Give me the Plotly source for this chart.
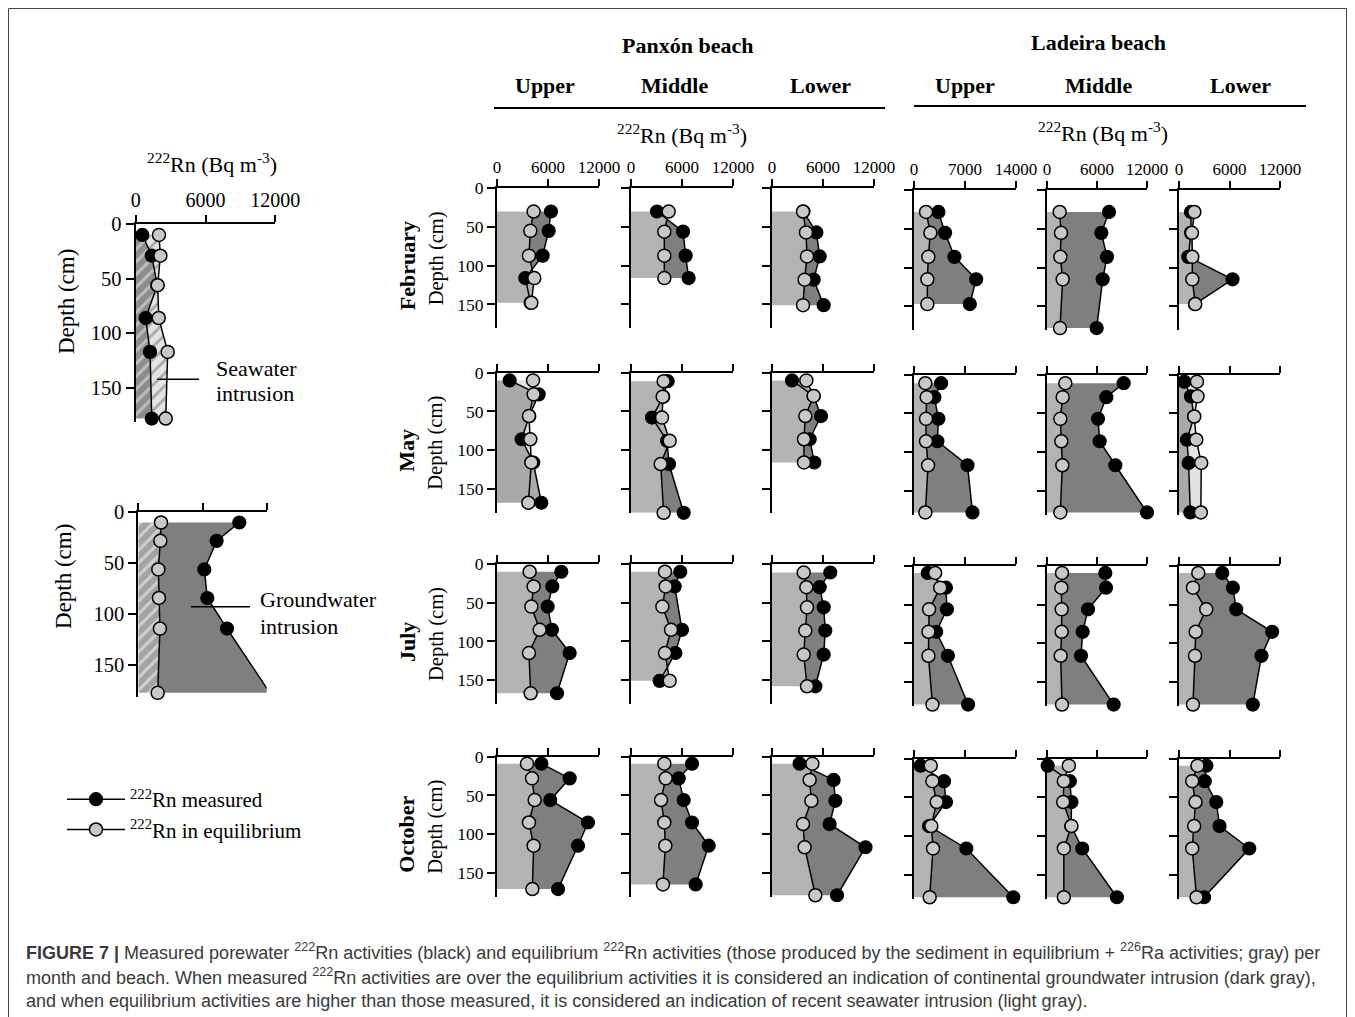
import numpy as np
import plotly.graph_objects as go

W, H = 1355, 1017
OX, OY = 8, 8          # page offset of the plot inside the browser window
SERIF = "Liberation Serif, Times New Roman, serif"
SANS = "Liberation Sans, Arial, sans-serif"

# ------------------------------------------------------------------ data
# depths (cm), measured 222Rn and equilibrium 222Rn (Bq m-3)
# February
d_feb_pu = [30, 55, 87, 116, 148]
m_feb_pu = [6350, 6080, 5370, 3330, 3950]
e_feb_pu = [4310, 3920, 3760, 4390, 4040]
d_feb_pm = [30, 56, 87, 116]
m_feb_pm = [3060, 6120, 6430, 6780]
e_feb_pm = [4430, 3920, 3920, 3920]
d_feb_pl = [30, 57, 88, 118, 151]
m_feb_pl = [3700, 5220, 5610, 4900, 6080]
e_feb_pl = [3650, 4000, 4120, 3840, 3650]
d_feb_lu = [28, 55, 86, 115, 147]
m_feb_lu = [3350, 4270, 5550, 8530, 7660]
e_feb_lu = [1650, 2250, 1970, 1830, 1830]
d_feb_lm = [28, 55, 86, 115, 178]
m_feb_lm = [7440, 6520, 7200, 6680, 5960]
e_feb_lm = [1520, 1680, 1600, 1880, 1560]
d_feb_ll = [28, 55, 86, 115, 147]
m_feb_ll = [1420, 1420, 1100, 6360, 1900]
e_feb_ll = [1820, 1540, 1580, 1580, 1930]
# May
d_may_pu = [10, 28, 56, 86, 116, 168]
m_may_pu = [1490, 4900, 3800, 2900, 4270, 5220]
e_may_pu = [4240, 4310, 3760, 3920, 4040, 3690]
d_may_pm = [11, 31, 58, 88, 118, 181]
m_may_pm = [4310, 3800, 2470, 4240, 4470, 6200]
e_may_pm = [3840, 3730, 3650, 4550, 3490, 3840]
d_may_pl = [10, 30, 56, 86, 116]
m_may_pl = [2350, 4900, 5760, 4430, 4980]
e_may_pl = [4040, 4900, 3920, 3760, 3760]
d_may_lu = [11, 29, 57, 86, 117, 178]
m_may_lu = [3720, 2800, 3350, 3210, 7340, 8030]
e_may_lu = [1560, 1740, 1650, 1650, 1930, 1560]
d_may_lm = [11, 29, 57, 86, 117, 178]
m_may_lm = [9200, 7120, 6120, 6320, 8200, 12000]
e_may_lm = [2200, 1880, 1600, 1720, 1840, 1600]
d_may_ll = [9, 28, 54, 84, 114, 178]
m_may_ll = [630, 1420, 1790, 940, 1140, 1340]
e_may_ll = [2130, 2200, 1810, 2050, 2640, 2600]
# July
d_jul_pu = [10, 29, 55, 85, 115, 167]
m_jul_pu = [7570, 6510, 5960, 6470, 8550, 7060]
e_jul_pu = [3840, 4310, 4040, 5020, 3760, 3960]
d_jul_pm = [10, 29, 55, 85, 115, 151]
m_jul_pm = [5800, 5140, None, 6000, 5220, 3370]
e_jul_pm = [4000, 4080, 3690, 4710, 4000, 4550]
d_jul_pl = [11, 30, 56, 86, 117, 158]
m_jul_pl = [6860, 5610, 6080, 6270, 6080, 5100]
e_jul_pl = [3730, 4040, 4120, 3920, 3730, 4120]
d_jul_lu = [9, 28, 56, 85, 116, 179]
m_jul_lu = [1890, 4380, 4520, 3040, 4650, 7420]
e_jul_lu = [2900, 3600, 2070, 1980, 1980, 2530]
d_jul_lm = [9, 28, 56, 85, 116, 179]
m_jul_lm = [7000, 7080, 4920, 4280, 4080, 8000]
e_jul_lm = [1800, 1720, 1760, 1760, 1640, 1800]
d_jul_ll = [9, 28, 56, 85, 116, 179]
m_jul_ll = [5140, 6400, 6800, 11070, 9800, 8770]
e_jul_ll = [2290, 1660, 3240, 1980, 1900, 1660]
# October
d_oct_pu = [9, 28, 56, 85, 115, 171]
m_oct_pu = [5220, 8550, 6270, 10700, 9530, 7180]
e_oct_pu = [3530, 4120, 4430, 3760, 4310, 4160]
d_oct_pm = [9, 28, 56, 85, 115, 165]
m_oct_pm = [7180, 5610, 6200, 7180, 9140, 7610]
e_oct_pm = [3920, 4080, 3530, 3920, 4040, 3760]
d_oct_pl = [9, 30, 57, 87, 117, 179]
m_oct_pl = [3250, 7250, 7450, 6780, 11000, 7650]
e_oct_pl = [4750, 4430, 4630, 3650, 3840, 5100]
d_oct_lu = [9, 29, 56, 87, 116, 179]
m_oct_lu = [910, 4120, 4390, 2060, 7180, 13630]
e_oct_lu = [2290, 2520, 3110, 2380, 2610, 2150]
d_oct_lm = [9, 29, 56, 87, 116, 179]
m_oct_lm = [80, 2740, 2940, 2900, 4230, 8390]
e_oct_lm = [2620, 2020, 1940, 2940, 2020, 2020]
d_oct_ll = [9, 29, 56, 87, 116, 179]
m_oct_ll = [3250, 3060, 4430, 4820, 8350, 2980]
e_oct_ll = [2200, 1570, 1960, 1800, 1570, 2080]

# schematic examples
d_ex_sea = [10, 29, 56, 86, 117, 178]
m_ex_sea = [570, 1380, 1850, 860, 1230, 1380]
e_ex_sea = [2000, 2120, 1890, 1980, 2750, 2580]
d_ex_gw = [10, 28, 56, 84, 114, 177]
m_ex_gw = [9440, 7320, 6170, 6450, 8290, 12300]
e_ex_gw = [2120, 2060, 1870, 1930, 2020, 1810]

months = ["February", "May", "July", "October"]
zones = ["Upper", "Middle", "Lower"]
axis_max = [12000, 12000, 12000, 14000, 12000, 12000]

panels = [
    [(d_feb_pu, m_feb_pu, e_feb_pu), (d_feb_pm, m_feb_pm, e_feb_pm), (d_feb_pl, m_feb_pl, e_feb_pl),
     (d_feb_lu, m_feb_lu, e_feb_lu), (d_feb_lm, m_feb_lm, e_feb_lm), (d_feb_ll, m_feb_ll, e_feb_ll)],
    [(d_may_pu, m_may_pu, e_may_pu), (d_may_pm, m_may_pm, e_may_pm), (d_may_pl, m_may_pl, e_may_pl),
     (d_may_lu, m_may_lu, e_may_lu), (d_may_lm, m_may_lm, e_may_lm), (d_may_ll, m_may_ll, e_may_ll)],
    [(d_jul_pu, m_jul_pu, e_jul_pu), (d_jul_pm, m_jul_pm, e_jul_pm), (d_jul_pl, m_jul_pl, e_jul_pl),
     (d_jul_lu, m_jul_lu, e_jul_lu), (d_jul_lm, m_jul_lm, e_jul_lm), (d_jul_ll, m_jul_ll, e_jul_ll)],
    [(d_oct_pu, m_oct_pu, e_oct_pu), (d_oct_pm, m_oct_pm, e_oct_pm), (d_oct_pl, m_oct_pl, e_oct_pl),
     (d_oct_lu, m_oct_lu, e_oct_lu), (d_oct_lm, m_oct_lm, e_oct_lm), (d_oct_ll, m_oct_ll, e_oct_ll)],
]

# ------------------------------------------------------------------ layout geometry (window px)
COL_X = [497, 631, 772, 914, 1047, 1179]
COL_W = [102, 102, 102, 102, 100, 101]
ROW_Y = [188.3, 372.7, 564, 756.7]
PX_CM = 0.774
YMAX = 181

C_BASE = "#b3b3b3"
C_DARK = "#7f7f7f"
C_SEA_BASE = "#a9a9a9"
C_SEA_LIGHT = "#e2e2e2"
C_EQ = "#c8c8c8"

fig = go.Figure()
layout = {}


def px(x):
    return (x - OX) / W


def py(y):
    return 1 - (y - OY) / H


def xd(x0, w):
    return [px(x0), px(x0 + w)]


def yd(y0, h):
    return [py(y0 + h), py(y0)]


def regions(d, m, e):
    """split the area between measured and equilibrium profiles at crossings"""
    d = np.asarray(d, float)
    m = np.asarray([np.nan if v is None else v for v in m], float)
    e = np.asarray(e, float)
    ok = ~np.isnan(m)
    m = np.interp(d, d[ok], m[ok])
    pts = [(d[0], e[0], m[0])]
    for i in range(len(d) - 1):
        a, b = m[i] - e[i], m[i + 1] - e[i + 1]
        if a * b < 0:
            t = a / (a - b)
            dc = d[i] + t * (d[i + 1] - d[i])
            xc = e[i] + t * (e[i + 1] - e[i])
            pts.append((dc, xc, xc))
        pts.append((d[i + 1], e[i + 1], m[i + 1]))
    runs, cur, sgn = [], [pts[0]], np.sign(pts[0][2] - pts[0][1])
    for p in pts[1:]:
        s = np.sign(p[2] - p[1])
        cur.append(p)
        if s == 0:
            runs.append((sgn, cur))
            cur, sgn = [p], 0
        elif sgn == 0:
            sgn = s
    runs.append((sgn, cur))
    out = []
    for s, r in runs:
        if len(r) < 2:
            continue
        ds = [p[0] for p in r]
        es = [p[1] for p in r]
        ms = [p[2] for p in r]
        out.append((s, es + ms[::-1], ds + ds[::-1]))
    return out


def fill_trace(k, xs, ys, color, pattern=None):
    kw = dict(x=xs, y=ys, fill="toself", mode="none", fillcolor=color,
              xaxis="x" if k == 1 else f"x{k}", yaxis="y" if k == 1 else f"y{k}",
              hoverinfo="skip", showlegend=False)
    if pattern:
        kw["fillpattern"] = pattern
    fig.add_trace(go.Scatter(**kw))


def profile_traces(k, d, m, e, legend=False):
    ax = dict(xaxis="x" if k == 1 else f"x{k}", yaxis="y" if k == 1 else f"y{k}")
    fig.add_trace(go.Scatter(x=m, y=d, mode="lines+markers", connectgaps=True,
                             line=dict(color="black", width=1.5),
                             marker=dict(size=13, color="black", line=dict(color="black", width=1.2)),
                             name="<sup>222</sup>Rn measured", showlegend=legend,
                             cliponaxis=False, hoverinfo="skip", **ax))
    fig.add_trace(go.Scatter(x=e, y=d, mode="lines+markers",
                             line=dict(color="black", width=1.5),
                             marker=dict(size=13, color=C_EQ, line=dict(color="black", width=1.5)),
                             name="<sup>222</sup>Rn in equilibrium", showlegend=legend,
                             cliponaxis=False, hoverinfo="skip", **ax))


def axes(k, xdom, ydom, xmax, show_x, show_y, tick_size=17, ymax=YMAX):
    sx = "" if k == 1 else str(k)
    layout[f"xaxis{sx}"] = dict(
        domain=xdom, range=[0, xmax], anchor=f"y{sx}", side="top", automargin=False,
        tickvals=[0, xmax / 2, xmax], ticktext=["0", f"{xmax // 2}", f"{xmax}"],
        showticklabels=show_x, ticks="outside", ticklen=7, tickwidth=2, tickcolor="black",
        showline=True, linewidth=2, linecolor="black", showgrid=False, zeroline=False,
        tickfont=dict(family=SERIF, size=tick_size, color="black"), fixedrange=True)
    layout[f"yaxis{sx}"] = dict(
        domain=ydom, range=[ymax, 0], anchor=f"x{sx}", automargin=False,
        tickvals=[0, 50, 100, 150], showticklabels=show_y, ticks="outside", ticklen=8,
        tickwidth=2, tickcolor="black", showline=True, linewidth=2, linecolor="black",
        showgrid=False, zeroline=False,
        tickfont=dict(family=SERIF, size=tick_size + 0.5, color="black"), fixedrange=True)


k = 0
for r in range(4):
    for c in range(6):
        k += 1
        d, m, e = panels[r][c]
        xmax = axis_max[c]
        y0 = ROW_Y[r] + (2 if c >= 3 else 0)
        axes(k, xd(COL_X[c], COL_W[c]), yd(y0, YMAX * PX_CM), xmax, r == 0, c == 0)
        mv = np.array([np.nan if v is None else v for v in m], float)
        seawater = np.nanmean(mv) < np.mean(e)
        if seawater:
            fill_trace(k, [0] + list(mv) + [0], [d[0]] + list(d) + [d[-1]], C_SEA_BASE)
            for s, xs, ys in regions(d, m, e):
                if s < 0:
                    fill_trace(k, xs, ys, C_SEA_LIGHT)
        else:
            fill_trace(k, [0] + list(e) + [0], [d[0]] + list(d) + [d[-1]], C_BASE)
            for s, xs, ys in regions(d, m, e):
                if s > 0:
                    fill_trace(k, xs, ys, C_DARK)
        profile_traces(k, d, m, e, legend=(k == 1))

# ---- example 1: seawater intrusion
k_sea = 25
axes(k_sea, xd(135.7, 139.6), yd(224, YMAX * 1.093), 12000, True, True, tick_size=20)
hatch_dark = dict(shape="/", bgcolor="#8c8c8c", fgcolor="#bdbdbd", size=9, solidity=0.35, fillmode="replace")
hatch_light = dict(shape="/", bgcolor="#e4e4e4", fgcolor="#a8a8a8", size=9, solidity=0.3, fillmode="replace")
fill_trace(k_sea, [0] + m_ex_sea + [0], [d_ex_sea[0]] + d_ex_sea + [d_ex_sea[-1]], "#8c8c8c", hatch_dark)
for s, xs, ys in regions(d_ex_sea, m_ex_sea, e_ex_sea):
    if s < 0:
        fill_trace(k_sea, xs, ys, "#e4e4e4", hatch_light)
profile_traces(k_sea, d_ex_sea, m_ex_sea, e_ex_sea)

# ---- example 2: groundwater intrusion
k_gw = 26
axes(k_gw, xd(138.3, 128.4), yd(512.3, YMAX * 1.02), 12000, False, True, tick_size=20)
hatch_mid = dict(shape="/", bgcolor="#a3a3a3", fgcolor="#cfcfcf", size=9, solidity=0.35, fillmode="replace")
fill_trace(k_gw, [0] + e_ex_gw + [0], [d_ex_gw[0]] + d_ex_gw + [d_ex_gw[-1]], "#a3a3a3", hatch_mid)
for s, xs, ys in regions(d_ex_gw, m_ex_gw, e_ex_gw):
    if s > 0:
        fill_trace(k_gw, xs, ys, C_DARK)
profile_traces(k_gw, d_ex_gw, m_ex_gw, e_ex_gw)

# ------------------------------------------------------------------ annotations
ann = []


def text(x, y, t, size=20, bold=False, xanchor="center", angle=0, color="black", family=SERIF):
    if bold:
        t = f"<b>{t}</b>"
    ann.append(dict(x=px(x), y=py(y), xref="paper", yref="paper", text=t, showarrow=False,
                    xanchor=xanchor, yanchor="middle", textangle=angle,
                    font=dict(family=family, size=size, color=color)))


RN = "<sup>222</sup>Rn (Bq m<sup>-3</sup>)"
text(687, 45, "Panxón beach", 22, True)
text(1098, 43, "Ladeira beach", 22, True)
for cx, z in zip([545, 674, 820, 965, 1098, 1240], zones * 2):
    text(cx, 86, z, 22, True)
text(682, 134, RN, 22)
text(1103, 132, RN, 22)
for r, mth in enumerate(months):
    y0 = ROW_Y[r]
    text(407, y0 + 78, mth, 22, True, angle=-90)
    text(436, y0 + 70, "Depth (cm)", 20.5, angle=-90)

text(212, 163, RN, 22)
text(66, 302, "Depth (cm)", 23, angle=-90)
text(63, 577, "Depth (cm)", 23, angle=-90)
text(214, 368, "Seawater", 22, xanchor="left")
text(214, 394, "intrusion", 22, xanchor="left")
text(258, 599, "Groundwater", 22, xanchor="left")
text(258, 626, "intrusion", 22, xanchor="left")

CAP = "#3a3a3a"
cap1 = ("<b>FIGURE 7 |</b> Measured porewater <sup>222</sup>Rn activities (black) and equilibrium "
        "<sup>222</sup>Rn activities (those produced by the sediment in equilibrium + "
        "<sup>226</sup>Ra activities; gray) per")
cap2 = ("month and beach. When measured <sup>222</sup>Rn activities are over the equilibrium activities "
        "it is considered an indication of continental groundwater intrusion (dark gray),")
cap3 = ("and when equilibrium activities are higher than those measured, it is considered an "
        "indication of recent seawater intrusion (light gray).")
text(24, 951, cap1, 18, xanchor="left", color=CAP, family=SANS)
text(24, 976, cap2, 18, xanchor="left", color=CAP, family=SANS)
text(24, 1001, cap3, 18, xanchor="left", color=CAP, family=SANS)

# ------------------------------------------------------------------ shapes
def hline(x0, x1, y, color="black", width=2):
    return dict(type="line", xref="paper", yref="paper", x0=px(x0), x1=px(x1), y0=py(y), y1=py(y),
                line=dict(color=color, width=width))


def vline(x, y0, y1, color="#444", width=1):
    return dict(type="line", xref="paper", yref="paper", x0=px(x), x1=px(x), y0=py(y0), y1=py(y1),
                line=dict(color=color, width=width))


shapes = [
    hline(494, 885, 108),
    hline(914, 1306, 106),
    hline(8.5, 1346.5, 8.5, "#444", 1),
    vline(8.5, 8.5, 1030),
    vline(1346.5, 8.5, 1030),
    # pointer lines of the schematic labels
    dict(type="line", xref="x25", yref="y25", x0=1830, x1=5440, y0=142, y1=142,
         line=dict(color="black", width=1.5)),
    dict(type="line", xref="x26", yref="y26", x0=4920, x1=10440, y0=92.5, y1=92.5,
         line=dict(color="black", width=1.5)),
]

fig.update_layout(
    template="none",
    width=W, height=H, margin=dict(l=0, r=0, t=0, b=0, autoexpand=False),
    paper_bgcolor="white", plot_bgcolor="rgba(0,0,0,0)",
    showlegend=True,
    legend=dict(x=px(62), y=py(779), xanchor="left", yanchor="top", itemwidth=58,
                font=dict(family=SERIF, size=21, color="black"), bgcolor="rgba(0,0,0,0)",
                tracegroupgap=0, itemclick=False, itemdoubleclick=False),
    annotations=ann, shapes=shapes, **layout)

fig.write_html("out.html")
